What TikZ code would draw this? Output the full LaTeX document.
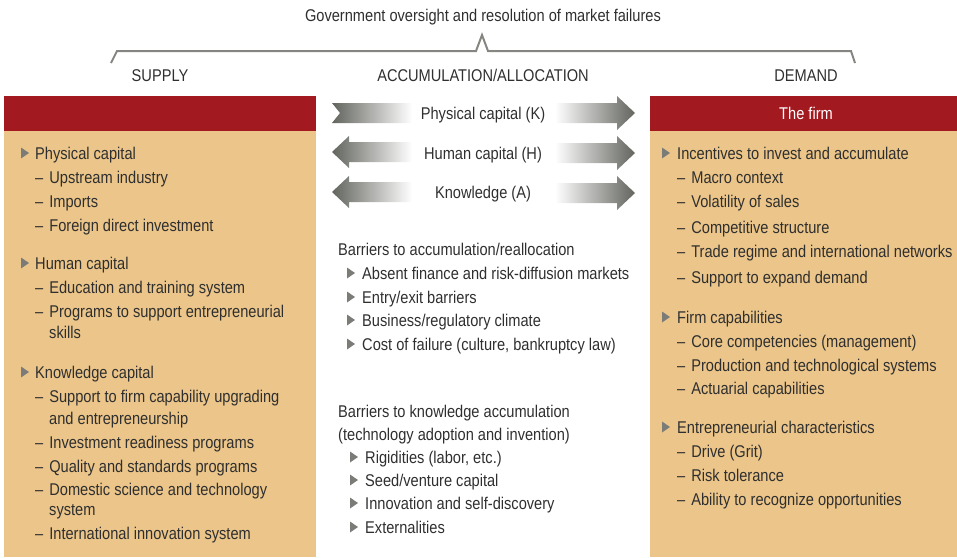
\documentclass[tikz,border=0pt]{standalone}
\usepackage{fontspec}
\setmainfont[FakeStretch=0.86]{Liberation Sans}
\definecolor{hdred}{HTML}{A2191F}
\definecolor{beige}{HTML}{EBC589}
\definecolor{txt}{HTML}{2F2F2F}
\definecolor{bgray}{HTML}{7B7C78}
\definecolor{agray}{HTML}{62645E}
\definecolor{brgray}{HTML}{858681}
\newcommand\itemdash{–\hspace{6pt}}
\begin{document}
\begin{tikzpicture}[x=1pt,y=-1pt,
  every node/.style={inner sep=0pt, text=txt, font=\fontsize{17}{20}\selectfont},
  tx/.style={anchor=base west},
  ctx/.style={anchor=base},
  bul/.pic={\fill[bgray] (0,-5.5) -- (8,0) -- (0,5.5) -- cycle;},
  rarr/.pic={\shade[left color=white, right color=agray]
     (555,-10) -- (617,-10) -- (617,-17) -- (635,0) -- (617,17) -- (617,10) -- (555,10) -- cycle;},
  larr/.pic={\shade[left color=agray, right color=white]
     (332,0) -- (349,-16) -- (349,-10) -- (412,-10) -- (412,10) -- (349,10) -- (349,16) -- cycle;},
  ltail/.pic={\shade[left color=agray, right color=white]
     (332,-10) -- (412,-10) -- (412,10) -- (332,10) -- (340,0) -- cycle;}
]
\useasboundingbox (0,0) rectangle (957,557);

% top bracket and headings
\node[ctx] (title) at (483,21) {Government oversight and resolution of market failures};
\draw[brgray, line width=2pt, line join=miter] (111,63) -- (117,51) -- (476,51) -- (482,35) -- (488,51) -- (851,51) -- (855,63);
\node[ctx] (supply) at (160,81) {SUPPLY};
\node[ctx] (accum) at (483,81) {ACCUMULATION/ALLOCATION};
\node[ctx] (demand) at (806,81) {DEMAND};

% boxes
\fill[beige] (4,96) rectangle (316,557);
\fill[hdred] (4,96) rectangle (316,131);
\fill[beige] (650,96) rectangle (957,557);
\fill[hdred] (650,96) rectangle (957,131);
\node[ctx, text=white] (firm) at (806,119) {The firm};

% arrows
\pic at (0,113) {ltail};
\pic at (0,113) {rarr};
\pic at (0,152) {larr};
\pic at (0,153) {rarr};
\pic at (0,192) {larr};
\pic at (0,193) {rarr};
\node[ctx] (kcap) at (483,119) {Physical capital (K)};
\node[ctx] (hcap) at (483,159) {Human capital (H)};
\node[ctx] (acap) at (483,198) {Knowledge (A)};

% left column
\pic at (21,153) {bul};
\pic at (21,263) {bul};
\pic at (21,372) {bul};
\node[tx] (l1) at (35,159) {Physical capital};
\node[tx] (l2) at (35,183) {\itemdash Upstream industry};
\node[tx] (l3) at (35,207) {\itemdash Imports};
\node[tx] (l4) at (35,231) {\itemdash Foreign direct investment};
\node[tx] (l5) at (35,269) {Human capital};
\node[tx] (l6) at (35,293) {\itemdash Education and training system};
\node[tx] (l7) at (35,317) {\itemdash Programs to support entrepreneurial};
\node[tx] (l8) at (49,338) {skills};
\node[tx] (l9) at (35,378) {Knowledge capital};
\node[tx] (l10) at (35,402) {\itemdash Support to firm capability upgrading};
\node[tx] (l11) at (49,424) {and entrepreneurship};
\node[tx] (l12) at (35,448) {\itemdash Investment readiness programs};
\node[tx] (l13) at (35,472) {\itemdash Quality and standards programs};
\node[tx] (l14) at (35,495) {\itemdash Domestic science and technology};
\node[tx] (l15) at (49,515) {system};
\node[tx] (l16) at (35,539) {\itemdash International innovation system};

% middle column
\node[tx] (m1) at (338,255) {Barriers to accumulation/reallocation};
\pic at (347,273) {bul};
\pic at (347,297) {bul};
\pic at (347,320) {bul};
\pic at (347,344) {bul};
\node[tx] (m2) at (362,279) {Absent finance and risk-diffusion markets};
\node[tx] (m3) at (362,303) {Entry/exit barriers};
\node[tx] (m4) at (362,326) {Business/regulatory climate};
\node[tx] (m5) at (362,350) {Cost of failure (culture, bankruptcy law)};
\node[tx] (m6) at (338,417) {Barriers to knowledge accumulation};
\node[tx] (m7) at (338,440) {(technology adoption and invention)};
\pic at (350,457) {bul};
\pic at (350,480) {bul};
\pic at (350,503) {bul};
\pic at (350,527) {bul};
\node[tx] (m8) at (365,463) {Rigidities (labor, etc.)};
\node[tx] (m9) at (365,486) {Seed/venture capital};
\node[tx] (m10) at (365,509) {Innovation and self-discovery};
\node[tx] (m11) at (365,533) {Externalities};

% right column
\pic at (662,153) {bul};
\pic at (662,317) {bul};
\pic at (662,427) {bul};
\node[tx] (r1) at (677,159) {Incentives to invest and accumulate};
\node[tx] (r2) at (677,183) {\itemdash Macro context};
\node[tx] (r3) at (677,207) {\itemdash Volatility of sales};
\node[tx] (r4) at (677,233) {\itemdash Competitive structure};
\node[tx] (r5) at (677,257) {\itemdash Trade regime and international networks};
\node[tx] (r6) at (677,283) {\itemdash Support to expand demand};
\node[tx] (r7) at (677,323) {Firm capabilities};
\node[tx] (r8) at (677,347) {\itemdash Core competencies (management)};
\node[tx] (r9) at (677,371) {\itemdash Production and technological systems};
\node[tx] (r10) at (677,394) {\itemdash Actuarial capabilities};
\node[tx] (r11) at (677,433) {Entrepreneurial characteristics};
\node[tx] (r12) at (677,457) {\itemdash Drive (Grit)};
\node[tx] (r13) at (677,481) {\itemdash Risk tolerance};
\node[tx] (r14) at (677,505) {\itemdash Ability to recognize opportunities};
\end{tikzpicture}
\end{document}
